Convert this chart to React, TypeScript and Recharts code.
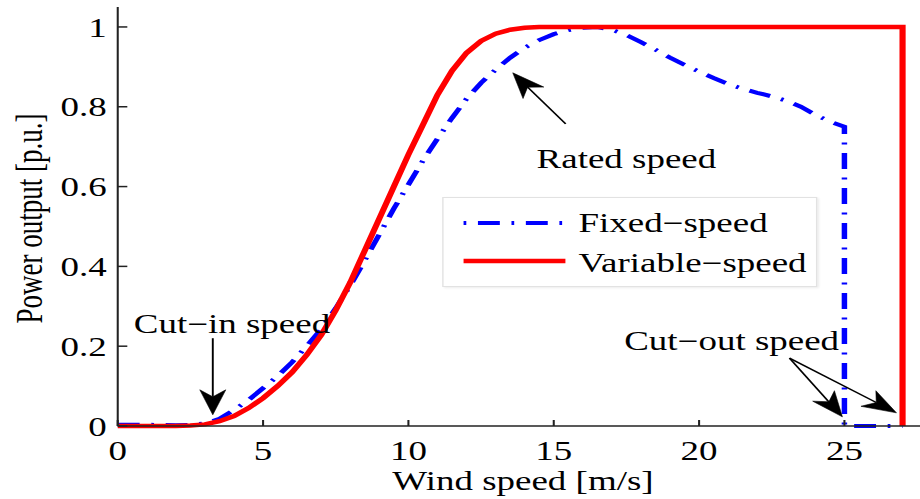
import React from 'react';
import { LineChart, Line, XAxis, YAxis, Legend, ReferenceLine, ReferenceDot } from 'recharts';

const FONT = '"Liberation Serif", "Times New Roman", serif';

// Fixed-speed turbine
const windFixed = [0, 1, 2, 2.5, 3, 3.5, 4, 4.5, 5, 5.5, 6, 6.5, 7, 7.5, 8, 8.5, 9, 9.5, 10, 10.5, 11, 11.5, 12, 12.5, 13, 13.5, 14, 14.5, 15, 15.5, 16, 16.5, 17, 17.5, 18, 18.5, 19, 19.5, 20, 20.5, 21, 21.5, 22, 22.5, 23, 23.5, 24, 24.5, 25, 25, 27];
const powerFixed = [0.003, 0.003, 0.002, 0.003, 0.006, 0.018, 0.04, 0.065, 0.095, 0.125, 0.16, 0.2, 0.243, 0.295, 0.352, 0.415, 0.48, 0.545, 0.605, 0.665, 0.72, 0.772, 0.82, 0.86, 0.893, 0.923, 0.948, 0.967, 0.982, 0.992, 0.998, 1.0, 0.993, 0.98, 0.962, 0.943, 0.923, 0.905, 0.888, 0.872, 0.857, 0.845, 0.835, 0.826, 0.815, 0.8, 0.78, 0.763, 0.75, 0, 0];

// Variable-speed turbine
const windVariable = [0, 1, 2, 2.5, 3, 3.5, 4, 4.5, 5, 5.5, 6, 6.5, 7, 7.5, 8, 8.5, 9, 9.5, 10, 10.5, 11, 11.5, 12, 12.5, 13, 13.5, 14, 14.5, 15, 20, 27, 27];
const powerVariable = [0, 0, 0, 0.001, 0.004, 0.012, 0.025, 0.045, 0.07, 0.1, 0.135, 0.178, 0.228, 0.29, 0.36, 0.44, 0.52, 0.6, 0.68, 0.755, 0.83, 0.89, 0.935, 0.965, 0.983, 0.993, 0.998, 1, 1, 1, 1, 0];

const xTicks = [0, 5, 10, 15, 20, 25];
const yTicks = [0, 0.2, 0.4, 0.6, 0.8, 1];
const seriesNames = ['Fixed\u2212speed', 'Variable\u2212speed'];

const annotationTexts = ['Rated speed', 'Cut\u2212in speed', 'Cut\u2212out speed'];
const annotationX = [17.5, 3.93, 21.12];
const annotationY = [0.67, 0.257, 0.214];

const arrowFromX = [15.41, 3.27, 23.11, 23.11];
const arrowFromY = [0.757, 0.22, 0.17, 0.17];
const arrowToX = [13.59, 3.27, 24.93, 26.79];
const arrowToY = [0.885, 0.028, 0.023, 0.033];

const fixedData = windFixed.map((x, i) => ({ x, p: powerFixed[i] }));
const variableData = windVariable.map((x, i) => ({ x, p: powerVariable[i] }));

const BLUE = '#0000ff';
const RED = '#ff0000';
const FIXED_DASH = '16 8.5 2 8.5';

const ArrowShape = (props: any) => {
  const { x1, y1, x2, y2 } = props;
  if ([x1, y1, x2, y2].some((v) => typeof v !== 'number' || isNaN(v))) return null;
  const ang = Math.atan2(y2 - y1, x2 - x1);
  const L = 25;
  const W = 9.5;
  const c = Math.cos(ang);
  const s = Math.sin(ang);
  const bx = x2 - L * c;
  const by = y2 - L * s;
  const nx = x2 - 0.72 * L * c;
  const ny = y2 - 0.72 * L * s;
  const lx = bx - W * s;
  const ly = by + W * c;
  const rx = bx + W * s;
  const ry = by - W * c;
  return (
    <g>
      <line x1={x1} y1={y1} x2={nx} y2={ny} stroke="#000" strokeWidth={1.4} />
      <polygon points={`${x2},${y2} ${lx},${ly} ${nx},${ny} ${rx},${ry}`} fill="#000" stroke="#000" strokeWidth={0.5} />
    </g>
  );
};

const makeTextShape = (text: string) => (props: any) => {
  const { cx, cy } = props;
  return (
    <text x={cx} y={cy} dy="0.35em" textAnchor="middle" fontFamily={FONT} fontSize={27} fill="#000">
      {text}
    </text>
  );
};

const LegendContent = () => (
  <div
    style={{
      position: 'relative',
      width: 274,
      height: 90,
      boxSizing: 'border-box',
      border: '1px solid #e2e2e2',
      boxShadow: '1px 1px 2px rgba(0,0,0,0.08)',
      background: '#fff',
      fontFamily: FONT,
      fontSize: 27,
      color: '#000',
    }}
  >
    <svg width={274} height={90} style={{ position: 'absolute', left: 0, top: 0 }}>
      <line x1={14.6} y1={25} x2={89} y2={25} stroke={BLUE} strokeWidth={4} strokeDasharray="2 8.5 16 8.5" />
      <line x1={14.6} y1={63} x2={89} y2={63} stroke={RED} strokeWidth={4.5} />
    </svg>
    <span style={{ position: 'absolute', left: 98.5, top: 12, lineHeight: '27px', whiteSpace: 'nowrap' }}>{seriesNames[0]}</span>
    <span style={{ position: 'absolute', left: 98.5, top: 52, lineHeight: '27px', whiteSpace: 'nowrap' }}>{seriesNames[1]}</span>
  </div>
);

const XLabel = (props: any) => {
  const vb = props.viewBox || {};
  const cx = vb.x + vb.width / 2 + 3;
  const y = vb.y + 64;
  return (
    <text x={cx} y={y} textAnchor="middle" fontFamily={FONT} fontSize={27} fill="#000">
      Wind speed [m/s]
    </text>
  );
};

const YLabel = (props: any) => {
  const vb = props.viewBox || {};
  const cx = vb.x + 31;
  const cy = vb.y + vb.height / 2 + 2;
  return (
    <text x={cx} y={cy} transform={`rotate(-90 ${cx} ${cy})`} textAnchor="middle" fontFamily={FONT} fontSize={27} fill="#000">
      Power output [p.u.]
    </text>
  );
};

const tickStyle = { fill: '#000', fontSize: 27, fontFamily: FONT };

export default function App() {
  return (
    <div style={{ position: 'absolute', left: 0, top: 0, width: 920, height: 499, overflow: 'hidden', background: '#fff' }}>
      <div style={{ width: 672, height: 499, transform: `scaleX(${920 / 672})`, transformOrigin: '0 0' }}>
        <LineChart width={672} height={499} margin={{ top: 7, right: 0, left: 0, bottom: 0 }}>
          <XAxis
            dataKey="x"
            type="number"
            domain={[0, 27.6]}
            ticks={xTicks}
            interval={0}
            height={73}
            tickSize={-6}
            tickMargin={21}
            axisLine={{ stroke: '#222', strokeWidth: 1.5 }}
            tickLine={{ stroke: '#222', strokeWidth: 1.5 }}
            tick={tickStyle}
            label={{ content: XLabel }}
          />
          <YAxis
            type="number"
            domain={[0, 1.05]}
            ticks={yTicks}
            interval={0}
            width={86}
            tickSize={-7}
            tickMargin={15}
            axisLine={{ stroke: '#222', strokeWidth: 1.5 }}
            tickLine={{ stroke: '#222', strokeWidth: 1.5 }}
            tick={tickStyle}
            label={{ content: YLabel }}
          />
          <Line
            data={fixedData}
            dataKey="p"
            name={seriesNames[0]}
            type="linear"
            stroke={BLUE}
            strokeWidth={4}
            strokeDasharray={FIXED_DASH}
            dot={false}
            activeDot={false}
            isAnimationActive={false}
          />
          <Line
            data={variableData}
            dataKey="p"
            name={seriesNames[1]}
            type="linear"
            stroke={RED}
            strokeWidth={4.5}
            dot={false}
            activeDot={false}
            isAnimationActive={false}
          />
          {arrowFromX.map((fx, i) => (
            <ReferenceLine
              key={`arrow-${i}`}
              segment={[
                { x: fx, y: arrowFromY[i] },
                { x: arrowToX[i], y: arrowToY[i] },
              ]}
              shape={ArrowShape}
              ifOverflow="visible"
            />
          ))}
          {annotationTexts.map((t, i) => (
            <ReferenceDot
              key={`ann-${i}`}
              x={annotationX[i]}
              y={annotationY[i]}
              r={1}
              shape={makeTextShape(t)}
              ifOverflow="visible"
            />
          ))}
          <Legend
            layout="horizontal"
            verticalAlign="middle"
            align="center"
            content={LegendContent}
            wrapperStyle={{ left: 323, top: 197, width: 274, height: 90 }}
          />
        </LineChart>
      </div>
    </div>
  );
}
